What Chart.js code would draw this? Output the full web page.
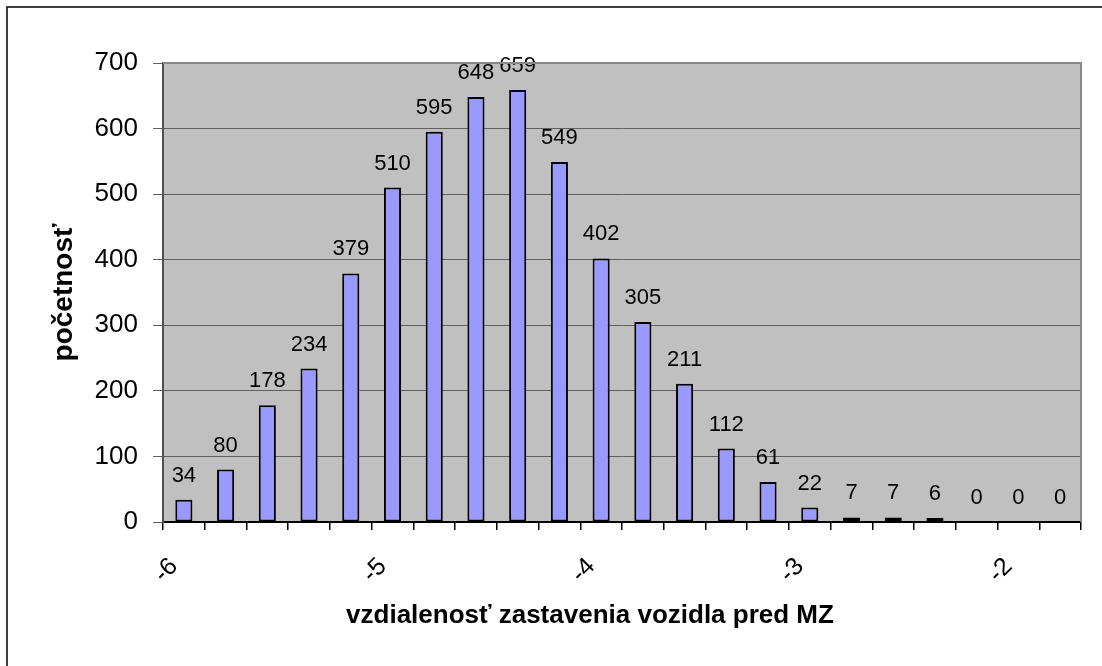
<!DOCTYPE html>
<html>
<head>
<meta charset="utf-8">
<script src="https://cdn.jsdelivr.net/npm/chart.js@4.4.1/dist/chart.umd.min.js"></script>
<style>
  html, body { margin: 0; padding: 0; background: #fff; overflow: hidden; }
  #c { display: block; }
</style>
</head>
<body>
<canvas id="c" width="1102" height="666"></canvas>
<script>
// Bin centres (vzdialenosť, step 0.2) and counts
const binCenters = [-5.9, -5.7, -5.5, -5.3, -5.1, -4.9, -4.7, -4.5, -4.3, -4.1, -3.9,
                    -3.7, -3.5, -3.3, -3.1, -2.9, -2.7, -2.5, -2.3, -2.1, -1.9, -1.7];
const counts = [34, 80, 178, 234, 379, 510, 595, 648, 659, 549, 402,
                305, 211, 112, 61, 22, 7, 7, 6, 0, 0, 0];
const yTicks = [0, 100, 200, 300, 400, 500, 600, 700];
const xLabelValues = [-6, -5, -4, -3, -2];
const xTitle = 'vzdialenosť zastavenia vozidla pred MZ';
const yTitle = 'početnosť';

const FONT = '"Liberation Sans", Arial, Helvetica, sans-serif';

const plotBg = {
  id: 'plotBg',
  beforeDraw(chart) {
    const { ctx, chartArea: a } = chart;
    ctx.save();
    ctx.fillStyle = '#C0C0C0';
    ctx.fillRect(a.left, a.top, a.right - a.left, a.bottom - a.top);
    ctx.restore();
  },
  afterDraw(chart) {
    const { ctx, chartArea: a } = chart;
    ctx.save();
    ctx.strokeStyle = '#888888';
    ctx.lineWidth = 2;
    ctx.beginPath();
    ctx.moveTo(a.left, a.top);
    ctx.lineTo(a.right, a.top);
    ctx.lineTo(a.right, a.bottom);
    ctx.stroke();
    ctx.strokeStyle = '#000';
    ctx.lineWidth = 1.5;
    ctx.beginPath();
    ctx.moveTo(7, 666);
    ctx.lineTo(7, 7);
    ctx.lineTo(1102, 7);
    ctx.stroke();
    ctx.fillStyle = '#000';
    ctx.font = 'bold 26px ' + FONT;
    ctx.textAlign = 'center';
    ctx.textBaseline = 'alphabetic';
    ctx.fillText(xTitle, 590, 623);
    ctx.restore();
  }
};

const dataLabels = {
  id: 'dataLabels',
  afterDatasetsDraw(chart) {
    const { ctx } = chart;
    const meta = chart.getDatasetMeta(0);
    ctx.save();
    ctx.fillStyle = '#000';
    ctx.font = '22px ' + FONT;
    ctx.textAlign = 'center';
    ctx.textBaseline = 'alphabetic';
    meta.data.forEach((bar, i) => {
      ctx.fillText(String(counts[i]), bar.x, bar.y - 18);
    });
    ctx.restore();
  }
};

new Chart(document.getElementById('c'), {
  type: 'bar',
  data: {
    datasets: [{
      data: binCenters.map((x, i) => ({ x: x, y: counts[i] })),
      backgroundColor: '#9999FF',
      borderColor: '#000000',
      borderWidth: 2,
      borderSkipped: false,
      barPercentage: 0.41,
      categoryPercentage: 1.0
    }]
  },
  options: {
    responsive: false,
    animation: false,
    devicePixelRatio: 1,
    layout: { padding: { left: 0, top: 63, right: 21, bottom: 0 } },
    plugins: {
      legend: { display: false },
      tooltip: { enabled: false }
    },
    scales: {
      x: {
        type: 'linear',
        min: -6,
        max: -1.6,
        offset: false,
        grid: {
          offset: false,
          drawOnChartArea: false,
          drawTicks: true,
          tickLength: 8,
          tickColor: '#000',
          lineWidth: 1.5
        },
        border: { color: '#000', width: 2 },
        ticks: {
          stepSize: 0.2,
          autoSkip: false,
          minRotation: 45,
          maxRotation: 45,
          padding: 22,
          labelOffset: 11,
          color: '#000',
          font: { family: FONT, size: 25 },
          callback: (v) => {
            const r = Math.round(v);
            return (Math.abs(v - r) < 1e-6 && xLabelValues.includes(r)) ? String(r) : '';
          }
        },
        afterFit: (s) => { s.height = 144; s.paddingLeft = 0; s.paddingRight = 0; }
      },
      y: {
        min: 0,
        max: 700,
        afterBuildTicks: (s) => { s.ticks = yTicks.map(v => ({ value: v })); },
        grid: {
          color: '#606060',
          lineWidth: 1,
          tickLength: 10,
          tickColor: '#606060'
        },
        border: { color: '#505050', width: 2 },
        ticks: {
          padding: 15,
          color: '#000',
          font: { family: FONT, size: 26 }
        },
        title: {
          display: true,
          text: yTitle,
          color: '#000',
          font: { family: FONT, size: 28, weight: 'bold' },
          padding: { top: 47, bottom: 0 }
        },
        afterFit: (s) => { s.width = 163; }
      }
    }
  },
  plugins: [plotBg, dataLabels]
});
</script>
</body>
</html>
